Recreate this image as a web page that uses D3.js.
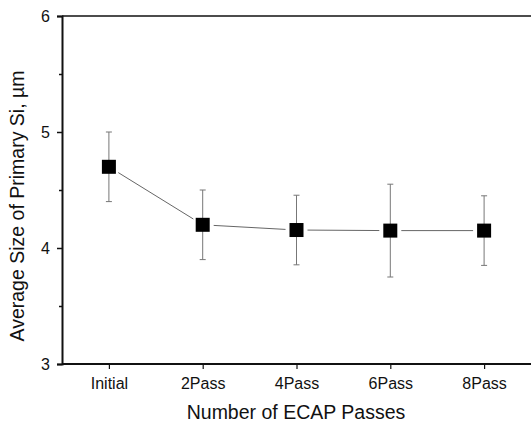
<!DOCTYPE html>
<html><head><meta charset="utf-8">
<script src="https://cdn.jsdelivr.net/npm/d3@7"></script>
<style>body{margin:0;background:#fff}svg{display:block}text{font-family:Arial,"Liberation Sans",sans-serif;fill:#111}</style>
</head><body><svg id="c" width="531" height="423"></svg>
<script>
const categories = ["Initial","2Pass","4Pass","6Pass","8Pass"];
const sizeValues = [4.70, 4.20, 4.155, 4.15, 4.15];
const errValues = [0.30, 0.30, 0.30, 0.40, 0.30];
const yTicks = [3,4,5,6];
const yMinorTicks = [3.5,4.5,5.5];

const svg = d3.select("#c");
const m = {l:62, r:531, t:16, b:364};
const x = d3.scalePoint().domain(categories).range([m.l, m.r]).padding(0.5);
const y = d3.scaleLinear().domain([3,6]).range([m.b, m.t]);

// top border
svg.append("line").attr("x1",m.l).attr("x2",531).attr("y1",m.t).attr("y2",m.t)
  .attr("stroke","#111").attr("stroke-width",1.5);

// y axis
const ya = svg.append("g").attr("transform",`translate(${m.l},0)`)
  .call(d3.axisLeft(y).tickValues(yTicks).tickFormat(d3.format("d")).tickSize(5).tickPadding(7));
ya.select(".domain").attr("stroke","#111").attr("stroke-width",2);
ya.selectAll(".tick line").attr("stroke","#111").attr("stroke-width",1.5);
ya.selectAll(".tick text").style("font-size","16px").attr("fill","#111");
svg.append("g").attr("transform",`translate(${m.l},0)`)
  .call(d3.axisLeft(y).tickValues(yMinorTicks).tickFormat("").tickSize(3))
  .call(g=>g.select(".domain").remove())
  .selectAll(".tick line").attr("stroke","#111").attr("stroke-width",1.5);

// x axis
const xa = svg.append("g").attr("transform",`translate(0,${m.b})`)
  .call(d3.axisBottom(x).tickSize(5).tickPadding(9));
xa.select(".domain").attr("d",`M${m.l},0H531`).attr("stroke","#111").attr("stroke-width",2);
xa.selectAll(".tick line").attr("stroke","#111").attr("stroke-width",1.2);
xa.selectAll(".tick text").style("font-size","16px").attr("fill","#111");

// titles
svg.append("text").attr("x",296).attr("y",419).attr("text-anchor","middle")
  .style("font-size","19.5px").text("Number of ECAP Passes");
svg.append("text").attr("transform",`translate(24,206) rotate(-90)`).attr("text-anchor","middle")
  .style("font-size","19.5px").text("Average Size of Primary Si, µm");

const data = categories.map((c,i)=>({c, v:sizeValues[i], e:errValues[i]}));

// connecting lines with gaps at markers
const half = 7, gap = 4;
for (let i=0;i<data.length-1;i++){
  const x1=x(data[i].c), y1=y(data[i].v), x2=x(data[i+1].c), y2=y(data[i+1].v);
  const dx=x2-x1, dy=y2-y1, L=Math.hypot(dx,dy);
  const s=(half+gap)/L;
  svg.append("line").attr("x1",x1+dx*s).attr("y1",y1+dy*s).attr("x2",x2-dx*s).attr("y2",y2-dy*s)
    .attr("stroke","#666").attr("stroke-width",1);
}

// error bars
const eb = svg.append("g").attr("stroke","#777").attr("stroke-width",1);
data.forEach(d=>{
  const cx=x(d.c);
  eb.append("line").attr("x1",cx).attr("x2",cx).attr("y1",y(d.v+d.e)).attr("y2",y(d.v-d.e));
  eb.append("line").attr("x1",cx-3).attr("x2",cx+3).attr("y1",y(d.v+d.e)).attr("y2",y(d.v+d.e));
  eb.append("line").attr("x1",cx-3).attr("x2",cx+3).attr("y1",y(d.v-d.e)).attr("y2",y(d.v-d.e));
});

// markers
svg.append("g").selectAll("rect").data(data).join("rect")
  .attr("x",d=>x(d.c)-half).attr("y",d=>y(d.v)-half)
  .attr("width",half*2).attr("height",half*2).attr("fill","#000");
</script></body></html>
